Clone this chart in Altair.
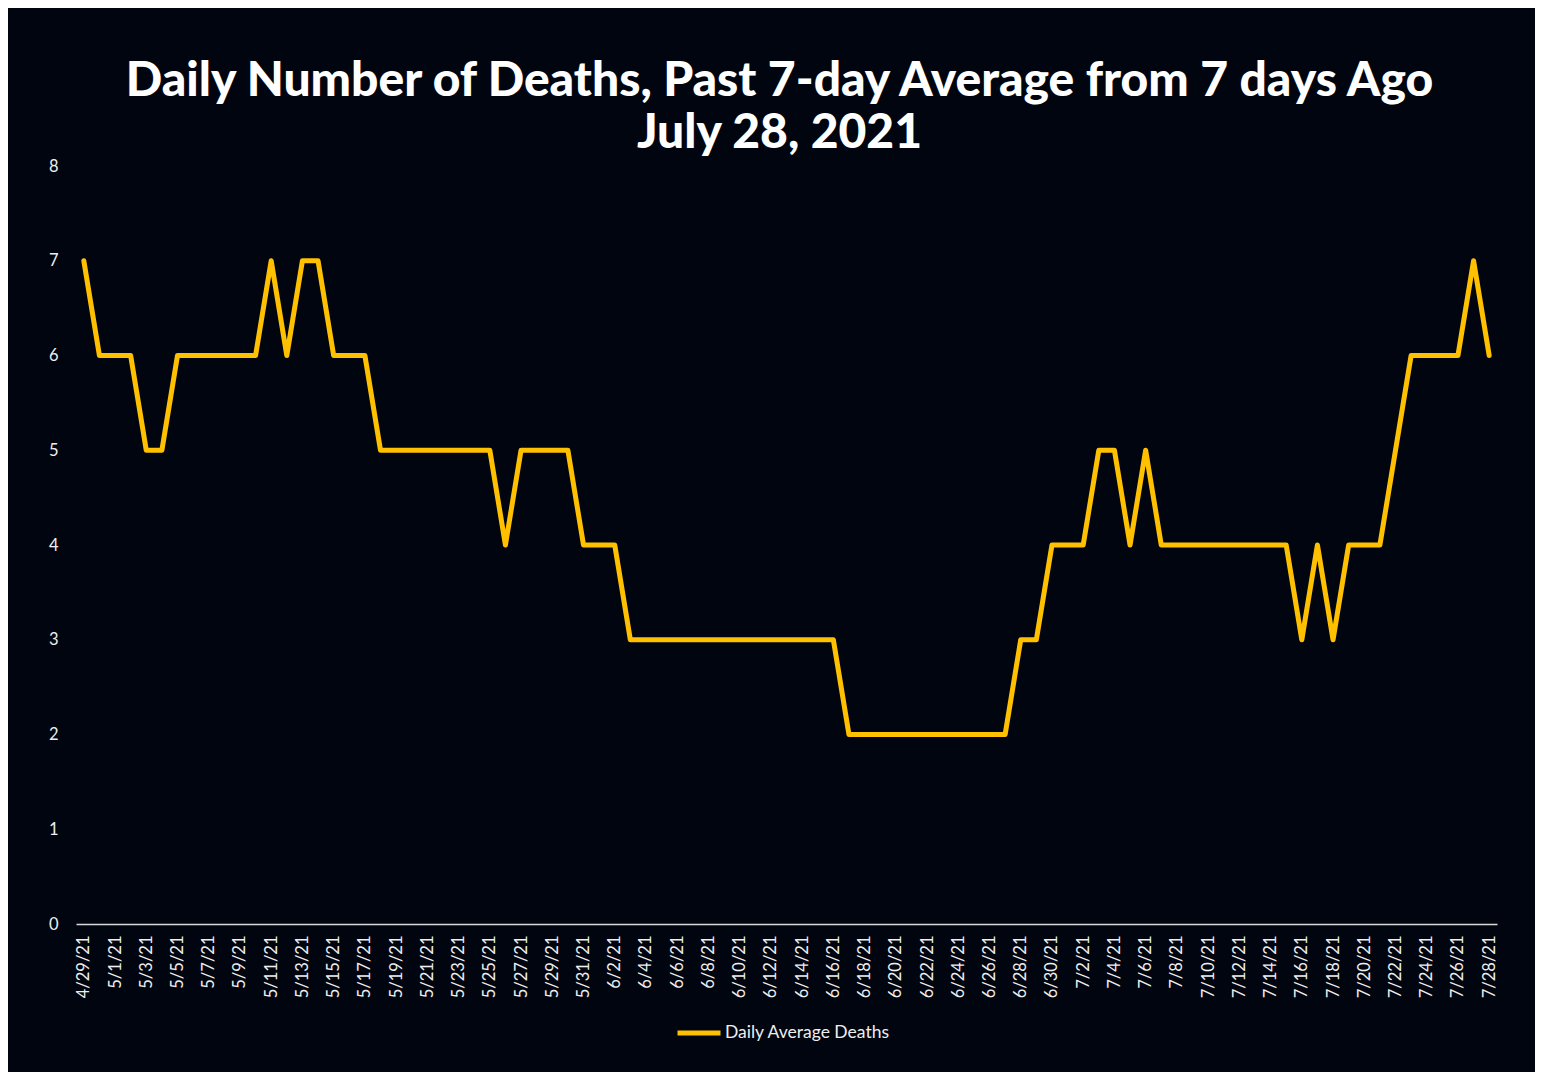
import altair as alt
import pandas as pd

dates = [
    "4/29/21", "4/30/21",
    "5/1/21", "5/2/21", "5/3/21", "5/4/21", "5/5/21", "5/6/21", "5/7/21", "5/8/21", "5/9/21", "5/10/21",
    "5/11/21", "5/12/21", "5/13/21", "5/14/21", "5/15/21", "5/16/21", "5/17/21", "5/18/21", "5/19/21", "5/20/21",
    "5/21/21", "5/22/21", "5/23/21", "5/24/21", "5/25/21", "5/26/21", "5/27/21", "5/28/21", "5/29/21", "5/30/21",
    "5/31/21",
    "6/1/21", "6/2/21", "6/3/21", "6/4/21", "6/5/21", "6/6/21", "6/7/21", "6/8/21", "6/9/21", "6/10/21",
    "6/11/21", "6/12/21", "6/13/21", "6/14/21", "6/15/21", "6/16/21", "6/17/21", "6/18/21", "6/19/21", "6/20/21",
    "6/21/21", "6/22/21", "6/23/21", "6/24/21", "6/25/21", "6/26/21", "6/27/21", "6/28/21", "6/29/21", "6/30/21",
    "7/1/21", "7/2/21", "7/3/21", "7/4/21", "7/5/21", "7/6/21", "7/7/21", "7/8/21", "7/9/21", "7/10/21",
    "7/11/21", "7/12/21", "7/13/21", "7/14/21", "7/15/21", "7/16/21", "7/17/21", "7/18/21", "7/19/21", "7/20/21",
    "7/21/21", "7/22/21", "7/23/21", "7/24/21", "7/25/21", "7/26/21", "7/27/21", "7/28/21",
]

deaths = [
    7, 6,
    6, 6, 5, 5, 6, 6, 6, 6, 6, 6,
    7, 6, 7, 7, 6, 6, 6, 5, 5, 5,
    5, 5, 5, 5, 5, 4, 5, 5, 5, 5,
    4,
    4, 4, 3, 3, 3, 3, 3, 3, 3, 3,
    3, 3, 3, 3, 3, 3, 2, 2, 2, 2,
    2, 2, 2, 2, 2, 2, 2, 3, 3, 4,
    4, 4, 5, 5, 4, 5, 4, 4, 4, 4,
    4, 4, 4, 4, 4, 3, 4, 3, 4, 4,
    4, 5, 6, 6, 6, 6, 7, 6,
]

series_name = "Daily Average Deaths"
tick_labels = dates[::2]
y_ticks = [0, 1, 2, 3, 4, 5, 6, 7, 8]
title_lines = ["Daily Number of Deaths, Past 7-day Average from 7 days Ago", "July 28, 2021"]

df = pd.DataFrame({"date": dates, "deaths": deaths, "series": series_name})

bg = "#01050f"
label_color = "#eeeeee"

chart = (
    alt.Chart(df)
    .mark_line(strokeWidth=5, strokeCap="round", strokeJoin="round")
    .encode(
        x=alt.X(
            "date:O",
            sort=dates,
            scale=alt.Scale(type="point", padding=0.5),
            axis=alt.Axis(
                values=tick_labels,
                labelAngle=-90,
                title=None,
                ticks=False,
                grid=False,
                domain=True,
                domainColor="#d9d9d9",
                domainWidth=1.5,
                labelPadding=11,
                labelFont="Lato",
                labelFontSize=16.5,
                labelColor=label_color,
            ),
        ),
        y=alt.Y(
            "deaths:Q",
            scale=alt.Scale(domain=[0, 8], nice=False),
            axis=alt.Axis(
                values=y_ticks,
                title=None,
                domain=False,
                ticks=False,
                grid=False,
                labelPadding=18,
                labelFont="Lato",
                labelFontSize=16.5,
                labelColor=label_color,
            ),
        ),
        color=alt.Color(
            "series:N",
            scale=alt.Scale(range=["#FFC000"]),
            legend=alt.Legend(
                title=None,
                orient="none",
                legendX=599,
                legendY=843,
                symbolType="stroke",
                symbolSize=1849,
                symbolStrokeWidth=5,
                labelFont="Lato",
                labelFontSize=17.5,
                labelColor=label_color,
                labelOffset=2,
                labelLimit=400,
            ),
        ),
    )
    .properties(
        width=1421,
        height=758,
        background=bg,
        autosize=alt.AutoSizeParams(type="none"),
        padding={"left": 68, "top": 158, "right": 38, "bottom": 148},
        title=alt.TitleParams(
            text=title_lines,
            font="Lato",
            fontSize=48,
            fontWeight=900,
            color="white",
            anchor="middle",
            lineHeight=52,
            offset=0,
            dx=-7,
        ),
    )
    .configure_view(stroke=None)
)

chart.save("out.html", embed_options={"renderer": "svg", "actions": False})
